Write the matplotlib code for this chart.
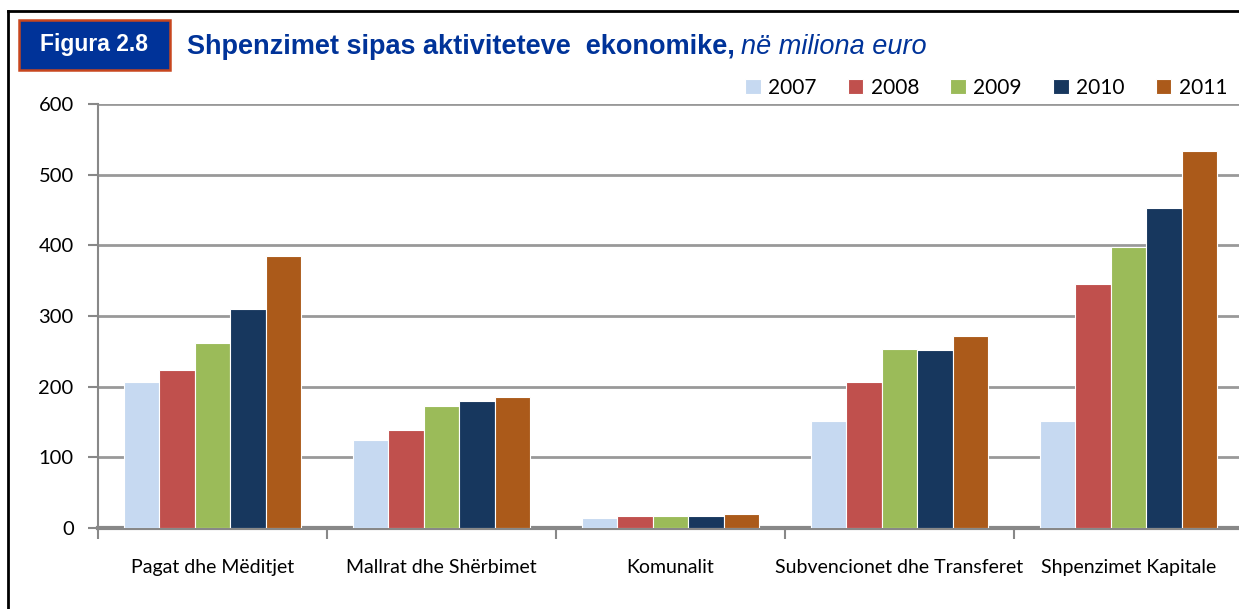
import matplotlib
matplotlib.use("Agg")
import matplotlib.pyplot as plt
import numpy as np
from matplotlib.patches import Rectangle

categories = ["Pagat dhe Mëditjet", "Mallrat dhe Shërbimet", "Komunalit",
              "Subvencionet dhe Transferet", "Shpenzimet Kapitale"]
years = ["2007", "2008", "2009", "2010", "2011"]
v2007 = [207, 124, 14, 152, 152]
v2008 = [224, 138, 17, 207, 345]
v2009 = [262, 172, 17, 254, 398]
v2010 = [310, 180, 17, 252, 453]
v2011 = [385, 186, 20, 271, 533]
colors = ["#C6D9F1", "#C0504D", "#9BBB59", "#17375E", "#AB5A1A"]
yticks = [0, 100, 200, 300, 400, 500, 600]

series = [v2007, v2008, v2009, v2010, v2011]

W, H = 1239, 609
fig = plt.figure(figsize=(W / 100, H / 100), dpi=100)
ax = fig.add_axes([98 / W, 1 - 528 / H, 1145 / W, 424 / H])

x = np.arange(len(categories))
bw = 0.155
for i, (vals, col, yr) in enumerate(zip(series, colors, years)):
    ax.bar(x + (i - 2) * bw, vals, bw, color=col, edgecolor="white",
           linewidth=0.8, label=yr, zorder=3)

ax.set_xlim(-0.5, 4.5)
ax.set_ylim(0, 600)
ax.set_yticks(yticks)
ax.set_yticklabels([str(t) for t in yticks], fontfamily="Lato", fontsize=14.5)
ax.yaxis.grid(True, color="#999999", linewidth=2, zorder=0)
ax.set_axisbelow(True)

# category boundaries as ticks, labels centred between them
ax.set_xticks(np.arange(-0.5, 5, 1))
ax.set_xticklabels([])
ax.set_xticks(x, minor=True)
ax.set_xticklabels(categories, minor=True, fontfamily="Lato", fontsize=14)
ax.tick_params(axis="x", which="major", length=8, width=1.5, color="#888888")
ax.tick_params(axis="x", which="minor", length=0, pad=22)
ax.tick_params(axis="y", length=7, width=1.5, color="#888888", pad=10.5)

for s in ["top", "right"]:
    ax.spines[s].set_visible(False)
ax.spines["left"].set_color("#888888")
ax.spines["left"].set_linewidth(1.5)
ax.spines["bottom"].set_color("#888888")
ax.spines["bottom"].set_linewidth(3)

leg = ax.legend(loc="lower right", bbox_to_anchor=(1227 / W, 1 - 98 / H),
                bbox_transform=fig.transFigure, ncol=5, frameon=False,
                prop={"family": "Lato", "size": 15}, handlelength=0.75,
                handleheight=0.75, handletextpad=0.35, columnspacing=1.5,
                borderpad=0, borderaxespad=0)

# outer frame (open at right and bottom)
fig.add_artist(plt.Line2D([8 / W, 8 / W], [0, 1 - 11 / H], color="black",
                          linewidth=2, transform=fig.transFigure))
fig.add_artist(plt.Line2D([8 / W, 1], [1 - 11 / H, 1 - 11 / H], color="black",
                          linewidth=2, transform=fig.transFigure))

# figure number box
fig.add_artist(Rectangle((19 / W, 1 - 70 / H), 151 / W, 50 / H,
                         transform=fig.transFigure, facecolor="#003399",
                         edgecolor="#C8461E", linewidth=1.8))
fig.text(94.5 / W, 1 - 45 / H, "Figura 2.8", color="white", fontweight="bold",
         fontsize=16.5, fontfamily="Liberation Sans", ha="center", va="center")

t1 = fig.text(187 / W, 1 - 54 / H, "Shpenzimet sipas aktiviteteve  ekonomike,",
              color="#003399", fontweight="bold", fontsize=19.5,
              fontfamily="Liberation Sans", ha="left", va="baseline")
fig.canvas.draw()
bb = t1.get_window_extent()
fig.text(bb.x1 / W + 6 / W, 1 - 54 / H, "në miliona euro", color="#003399",
         fontstyle="italic", fontsize=19.5, fontfamily="Liberation Sans",
         ha="left", va="baseline")

fig.savefig("out.png", dpi=100)
